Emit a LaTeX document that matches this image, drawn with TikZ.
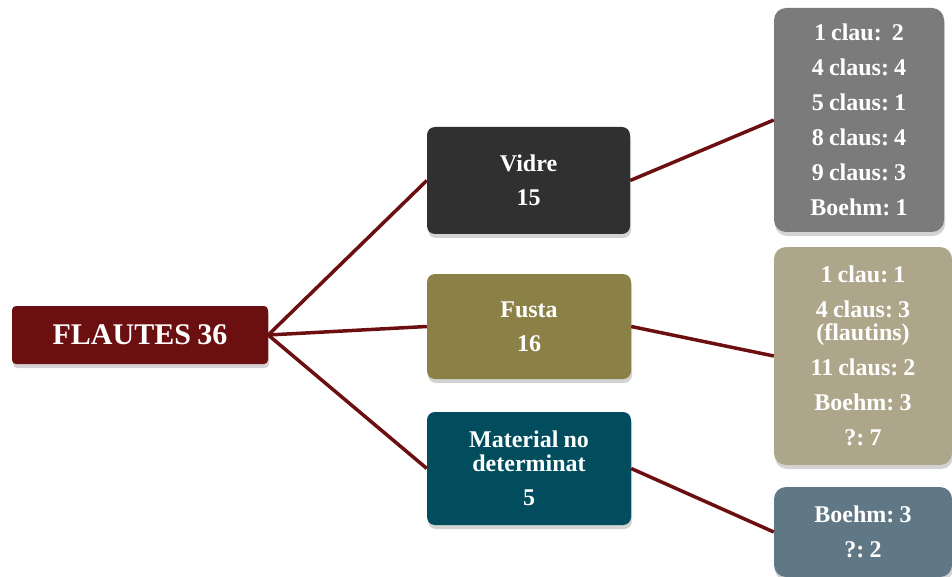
\documentclass[tikz,border=0pt]{standalone}
\usepackage{fontspec}
\setmainfont[WordSpace=0.85]{Liberation Serif}
\frenchspacing
\usetikzlibrary{shadows}

\definecolor{wine}{HTML}{6B0F10}
\definecolor{glass}{HTML}{303030}
\definecolor{wood}{HTML}{8B8147}
\definecolor{teal}{HTML}{014D5D}
\definecolor{greyb}{HTML}{7B7B7B}
\definecolor{sand}{HTML}{ADA68B}
\definecolor{slate}{HTML}{607785}

\tikzset{
  box/.style={rounded corners=8pt, text=white, align=center, inner sep=0pt,
    font=\bfseries\fontsize{24}{34}\selectfont,
    drop shadow={shadow xshift=1pt, shadow yshift=-4pt, opacity=0.35}},
  rootbox/.style={box, rounded corners=4pt, fill=wine,
    font=\bfseries\fontsize{30}{34}\selectfont},
  leafbox/.style={box, rounded corners=12pt, font=\bfseries\fontsize{24}{35}\selectfont},
  link/.style={wine, line width=3.5pt}
}

\begin{document}
\begin{tikzpicture}[x=1pt, y=-1pt]
            \useasboundingbox (0,0) rectangle (952,577);
            % Nodes
            \node[rootbox, minimum width=256pt, minimum height=58pt] (root) at (140,335) {FLAUTES 36};

            \node[box, fill=glass, minimum width=203pt, minimum height=107pt] (vidre) at (528.5,180.5) {Vidre\\15};
            \node[box, fill=wood, minimum width=204pt, minimum height=105pt] (fusta) at (529,326.5) {Fusta\\16};
            \node[box, fill=teal, minimum width=204pt, minimum height=113pt] (mat) at (529,468.5) {Material no\\[-10pt]determinat\\5};

            \node[leafbox, fill=greyb, minimum width=170pt, minimum height=224pt] (vidreL) at (859,120)
              {1 clau:~ 2\\4 claus: 4\\5 claus: 1\\8 claus: 4\\9 claus: 3\\Boehm: 1};
            \node[leafbox, fill=sand, minimum width=178pt, minimum height=218pt] (fustaL) at (863,356)
              {1 clau: 1\\4 claus: 3\\[-12pt](flautins)\\11 claus: 2\\Boehm: 3\\?: 7};
            \node[leafbox, fill=slate, minimum width=178pt, minimum height=90pt] (matL) at (863,532)
              {Boehm: 3\\?: 2};

            % Edges
            \draw[link] (root.east) -- (vidre.west);
            \draw[link] (root.east) -- (fusta.west);
            \draw[link] (root.east) -- (mat.west);
            \draw[link] (vidre.east) -- (vidreL.west);
            \draw[link] (fusta.east) -- (fustaL.west);
            \draw[link] (mat.east) -- (matL.west);
\end{tikzpicture}
\end{document}
